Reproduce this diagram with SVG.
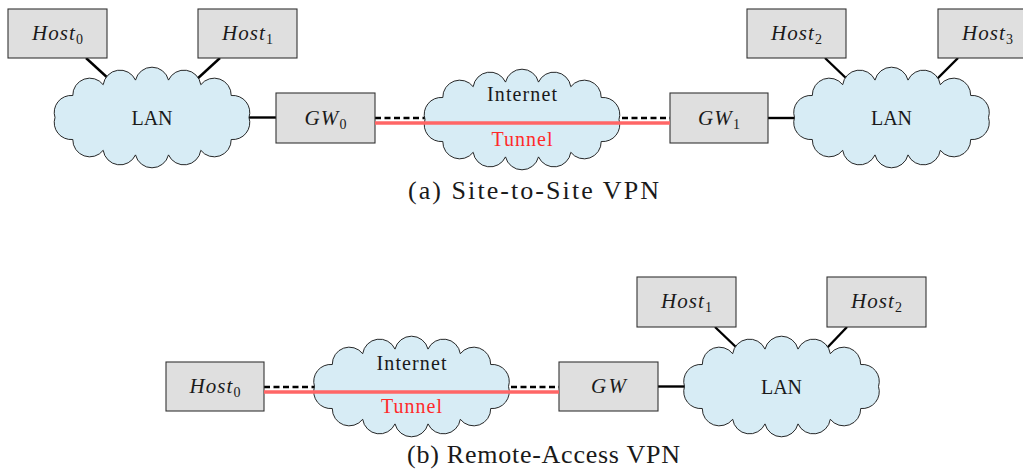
<svg xmlns="http://www.w3.org/2000/svg" width="1023" height="476" viewBox="0 0 1023 476">
<style>
.box{fill:#dfdfdf;stroke:#333;stroke-width:1.1}
.cloud{fill:#d7ecf5;stroke:#111;stroke-width:0.9}
.lbl{font-family:"Liberation Serif","Times New Roman",serif;font-size:20px;fill:#1a1a1a;text-anchor:middle}
.it{font-style:italic;font-size:21px}
.sub{font-size:14px;font-style:normal}
.link{stroke:#000;stroke-width:2.4;fill:none}
.dash{stroke:#000;stroke-width:2.4;stroke-dasharray:6 3.5;fill:none}
.tun{stroke:#ff6666;stroke-width:3.5;fill:none}
.tunlbl{fill:#ff2a2a}
.cap{font-family:"Liberation Serif","Times New Roman",serif;font-size:26px;fill:#1a1a1a}
</style>
<defs>
<path id="cloud" class="cloud" d="M97,0 A17,17 0 0 0 79.2,-22 A17,17 0 0 0 48.8,-32.8 A17,17 0 0 0 16.5,-37.4 A17,17 0 0 0 -16.5,-37.4 A17,17 0 0 0 -48.8,-32.8 A17,17 0 0 0 -79.2,-22 A17,17 0 0 0 -97,0 A17,17 0 0 0 -79.2,22 A17,17 0 0 0 -48.8,32.8 A17,17 0 0 0 -16.5,37.4 A17,17 0 0 0 16.5,37.4 A17,17 0 0 0 48.8,32.8 A17,17 0 0 0 79.2,22 A17,17 0 0 0 97,0 Z"/>
</defs>
<rect width="1023" height="476" fill="#fff"/>

<g id="connectors">
<line class="link" x1="86" y1="58" x2="110" y2="80"/>
<line class="link" x1="220" y1="58" x2="196" y2="80"/>
<line class="link" x1="247" y1="117.5" x2="276" y2="117.5"/>
<line class="dash" x1="375" y1="118" x2="670" y2="118"/>
<line class="link" x1="768" y1="118" x2="796" y2="118"/>
<line class="link" x1="825" y1="58" x2="848" y2="80"/>
<line class="link" x1="958" y1="58" x2="936" y2="80"/>
<line class="dash" x1="264" y1="387" x2="559" y2="387"/>
<line class="link" x1="658" y1="386.5" x2="686" y2="386.5"/>
<line class="link" x1="715" y1="327" x2="738" y2="349"/>
<line class="link" x1="847" y1="327" x2="826" y2="349"/>
</g>

<g id="host-a0"><rect class="box" x="8" y="9" width="99" height="49"/><text class="lbl it" x="57.5" y="39.5" textLength="51" lengthAdjust="spacing">Host<tspan class="sub" dy="4">0</tspan></text></g>
<g id="host-a1"><rect class="box" x="198" y="9" width="99" height="49"/><text class="lbl it" x="247.5" y="39.5" textLength="51" lengthAdjust="spacing">Host<tspan class="sub" dy="4">1</tspan></text></g>
<g id="lan-a0"><use href="#cloud" x="152" y="117.5"/><text class="lbl" x="152" y="125">LAN</text></g>
<g id="gw-a0"><rect class="box" x="276" y="93" width="99" height="50"/><text class="lbl it" x="325.5" y="124.5" textLength="42" lengthAdjust="spacing">GW<tspan class="sub" dy="4">0</tspan></text></g>
<g id="internet-a"><use href="#cloud" x="522" y="119.5"/><text class="lbl" x="522" y="101" textLength="70" lengthAdjust="spacing">Internet</text></g>
<g id="gw-a1"><rect class="box" x="670" y="93" width="98" height="50"/><text class="lbl it" x="719" y="124.5" textLength="42" lengthAdjust="spacing">GW<tspan class="sub" dy="4">1</tspan></text></g>
<g id="lan-a1"><use href="#cloud" x="891.5" y="117.5"/><text class="lbl" x="891.5" y="125">LAN</text></g>
<g id="host-a2"><rect class="box" x="747" y="9" width="99" height="49"/><text class="lbl it" x="796.5" y="39.5" textLength="51" lengthAdjust="spacing">Host<tspan class="sub" dy="4">2</tspan></text></g>
<g id="host-a3"><rect class="box" x="938" y="9" width="99" height="49"/><text class="lbl it" x="987.5" y="39.5" textLength="51" lengthAdjust="spacing">Host<tspan class="sub" dy="4">3</tspan></text></g>

<g id="host-b0"><rect class="box" x="166" y="362" width="98" height="49"/><text class="lbl it" x="215" y="392.5" textLength="51" lengthAdjust="spacing">Host<tspan class="sub" dy="4">0</tspan></text></g>
<g id="internet-b"><use href="#cloud" x="411.5" y="386.5"/><text class="lbl" x="411.5" y="370" textLength="70" lengthAdjust="spacing">Internet</text></g>
<g id="gw-b"><rect class="box" x="559" y="362" width="99" height="49"/><text class="lbl it" x="608.5" y="393" textLength="35" lengthAdjust="spacing">GW</text></g>
<g id="lan-b"><use href="#cloud" x="781.5" y="386.5"/><text class="lbl" x="781.5" y="394">LAN</text></g>
<g id="host-b1"><rect class="box" x="637" y="277" width="99" height="50"/><text class="lbl it" x="686.5" y="307.5" textLength="51" lengthAdjust="spacing">Host<tspan class="sub" dy="4">1</tspan></text></g>
<g id="host-b2"><rect class="box" x="827" y="277" width="99" height="50"/><text class="lbl it" x="876.5" y="307.5" textLength="51" lengthAdjust="spacing">Host<tspan class="sub" dy="4">2</tspan></text></g>

<g id="tunnels">
<line class="tun" x1="375" y1="123" x2="670" y2="123"/>
<text class="lbl tunlbl" x="522" y="146" textLength="61" lengthAdjust="spacing">Tunnel</text>
<line class="tun" x1="264" y1="392" x2="559" y2="392"/>
<text class="lbl tunlbl" x="411.5" y="413" textLength="61" lengthAdjust="spacing">Tunnel</text>
</g>

<g id="captions">
<text class="cap" x="408" y="199" textLength="251" lengthAdjust="spacing">(a) Site-to-Site VPN</text>
<text class="cap" x="407" y="463" textLength="273" lengthAdjust="spacing">(b) Remote-Access VPN</text>
</g>
</svg>
